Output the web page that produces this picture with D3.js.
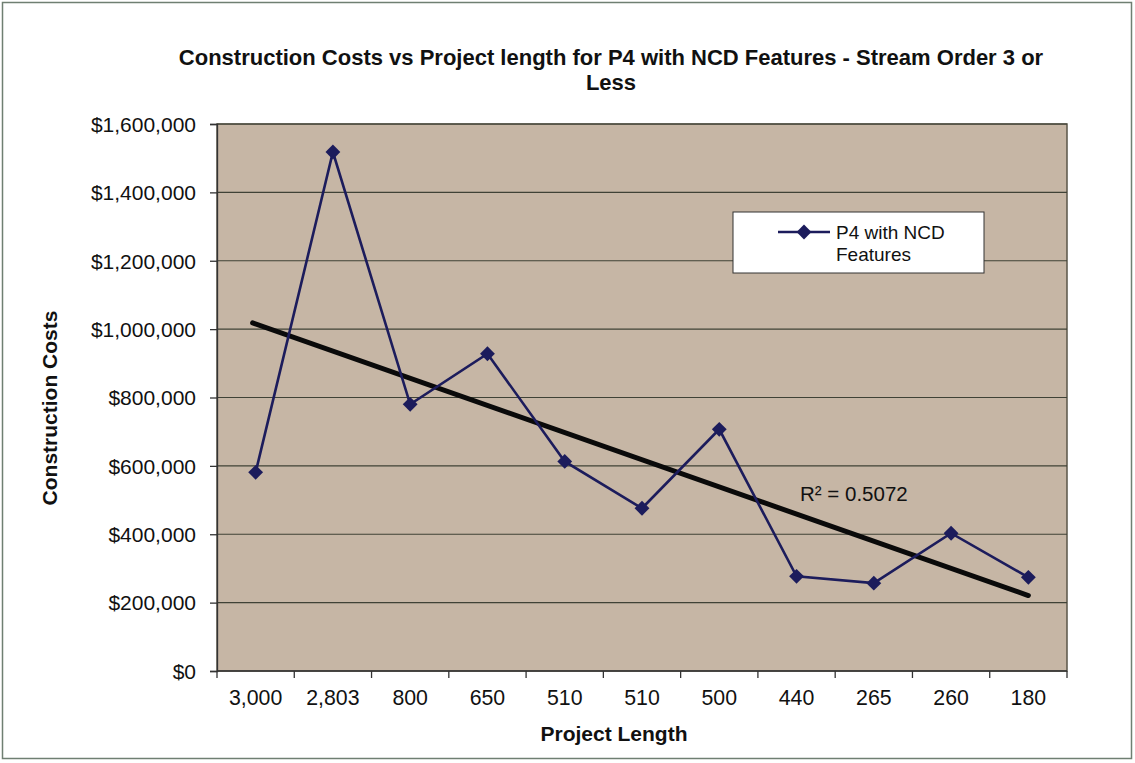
<!DOCTYPE html>
<html>
<head>
<meta charset="utf-8">
<title>Construction Costs vs Project length</title>
<script src="https://cdn.jsdelivr.net/npm/d3@7"></script>
<style>
    body { margin: 0; background: #fff; }
    text { font-family: "Liberation Sans", Arial, sans-serif; fill: #111; }
</style>
</head>
<body>
<script>
    // project lengths (category labels) and construction costs
    var lengths = ["3,000", "2,803", "800", "650", "510", "510", "500", "440", "265", "260", "180"];
    var costs = [581000, 1518000, 780000, 928000, 613000, 476000, 707000, 277000, 257000, 403000, 274000];
    var yTicks = [0, 200000, 400000, 600000, 800000, 1000000, 1200000, 1400000, 1600000];
    var r2Label = "R² = 0.5072";

    var w = 1135, h = 763,
        pLeft = 217, pRight = 1067, pTop = 124, pBottom = 671;

    var svg = d3.select("body").append("svg")
        .attr("width", w)
        .attr("height", h);

    // outer frame
    svg.append("rect")
        .attr("x", 2.5).attr("y", 2.5)
        .attr("width", w - 6).attr("height", h - 7)
        .attr("fill", "#fff")
        .attr("stroke", "#6f7f72")
        .attr("stroke-width", 1.5);

    var idx = d3.range(lengths.length);
    var x = d3.scaleBand().domain(idx).range([pLeft, pRight]);
    var y = d3.scaleLinear().domain([0, 1600000]).range([pBottom, pTop]);

    // plot area
    svg.append("rect")
        .attr("x", pLeft).attr("y", pTop)
        .attr("width", pRight - pLeft).attr("height", pBottom - pTop)
        .attr("fill", "#c6b6a5")
        .attr("stroke", "#5a5548")
        .attr("stroke-width", 1.5);

    // gridlines
    svg.append("g").selectAll("line")
        .data(yTicks.slice(1))
        .join("line")
        .attr("x1", pLeft).attr("x2", pRight)
        .attr("y1", function (d) {return y(d);})
        .attr("y2", function (d) {return y(d);})
        .attr("stroke", "#3f4236")
        .attr("stroke-width", 1.2);

    // y axis
    var fmt = d3.format(",");
    var yAxis = svg.append("g")
        .attr("transform", "translate(" + pLeft + ",0)")
        .call(d3.axisLeft(y).tickValues(yTicks).tickSize(7).tickPadding(14)
            .tickFormat(function (d) {return "$" + fmt(d);}));
    yAxis.selectAll("text").style("font-size", "21px").attr("dy", "0.35em");
    yAxis.selectAll("line, path").attr("stroke", "#333").attr("stroke-width", 1.3);

    // x axis (ticks at band boundaries)
    var xAxis = svg.append("g")
        .attr("transform", "translate(0," + pBottom + ")");
    xAxis.append("line")
        .attr("x1", pLeft).attr("x2", pRight)
        .attr("stroke", "#333").attr("stroke-width", 1.5);
    xAxis.selectAll("line.tick")
        .data(d3.range(lengths.length + 1))
        .join("line")
        .attr("class", "tick")
        .attr("x1", function (d) {return pLeft + d * x.step();})
        .attr("x2", function (d) {return pLeft + d * x.step();})
        .attr("y1", 0).attr("y2", 7)
        .attr("stroke", "#333").attr("stroke-width", 1.3);
    xAxis.selectAll("text")
        .data(idx)
        .join("text")
        .attr("x", function (d) {return x(d) + x.bandwidth() / 2;})
        .attr("y", 34)
        .attr("text-anchor", "middle")
        .style("font-size", "21.3px")
        .text(function (d) {return lengths[d];});

    // linear trend line over category positions 1..n
    var n = costs.length,
        xs = idx.map(function (d) {return d + 1;}),
        mx = d3.mean(xs), my = d3.mean(costs),
        slope = d3.sum(xs, function (v, i) {return (v - mx) * (costs[i] - my);}) /
                d3.sum(xs, function (v) {return (v - mx) * (v - mx);}),
        icpt = my - slope * mx;
    var cx = function (i) {return x(i) + x.bandwidth() / 2;};

    svg.append("line")
        .attr("x1", cx(0) - 3).attr("y1", y(icpt + slope * 1))
        .attr("x2", cx(n - 1)).attr("y2", y(icpt + slope * n))
        .attr("stroke", "#0a0a0a")
        .attr("stroke-width", 5)
        .attr("stroke-linecap", "round");

    // series line
    var line = d3.line()
        .x(function (d, i) {return cx(i);})
        .y(function (d) {return y(d);});
    svg.append("path")
        .datum(costs)
        .attr("d", line)
        .attr("fill", "none")
        .attr("stroke", "#1c1c5c")
        .attr("stroke-width", 2.6);

    var diamond = d3.symbol().type(d3.symbolDiamond2).size(140);
    svg.append("g").selectAll("path")
        .data(costs)
        .join("path")
        .attr("d", diamond)
        .attr("transform", function (d, i) {return "translate(" + cx(i) + "," + y(d) + ")";})
        .attr("fill", "#1c1c5c");

    // R² label
    svg.append("text")
        .attr("x", 800).attr("y", 501)
        .style("font-size", "20.5px")
        .text(r2Label);

    // legend
    var lg = svg.append("g").attr("transform", "translate(733,212)");
    lg.append("rect")
        .attr("width", 251).attr("height", 61)
        .attr("fill", "#fff")
        .attr("stroke", "#333").attr("stroke-width", 1);
    lg.append("line")
        .attr("x1", 45).attr("x2", 97).attr("y1", 20).attr("y2", 20)
        .attr("stroke", "#1c1c5c").attr("stroke-width", 2.6);
    lg.append("path")
        .attr("d", diamond)
        .attr("transform", "translate(71,20)")
        .attr("fill", "#1c1c5c");
    lg.append("text").attr("x", 103).attr("y", 27).style("font-size", "19px").text("P4 with NCD");
    lg.append("text").attr("x", 103).attr("y", 49).style("font-size", "19px").text("Features");

    // titles
    var title = svg.append("text")
        .attr("text-anchor", "middle")
        .style("font-size", "22px")
        .style("font-weight", "bold");
    title.append("tspan").attr("x", 611).attr("y", 65)
        .text("Construction Costs vs Project length for P4 with NCD Features - Stream Order 3 or");
    title.append("tspan").attr("x", 611).attr("y", 90).text("Less");

    svg.append("text")
        .attr("transform", "translate(57,408) rotate(-90)")
        .attr("text-anchor", "middle")
        .style("font-size", "21px")
        .style("font-weight", "bold")
        .text("Construction Costs");

    svg.append("text")
        .attr("x", 614).attr("y", 741)
        .attr("text-anchor", "middle")
        .style("font-size", "21px")
        .style("font-weight", "bold")
        .text("Project Length");
</script>
</body>
</html>
